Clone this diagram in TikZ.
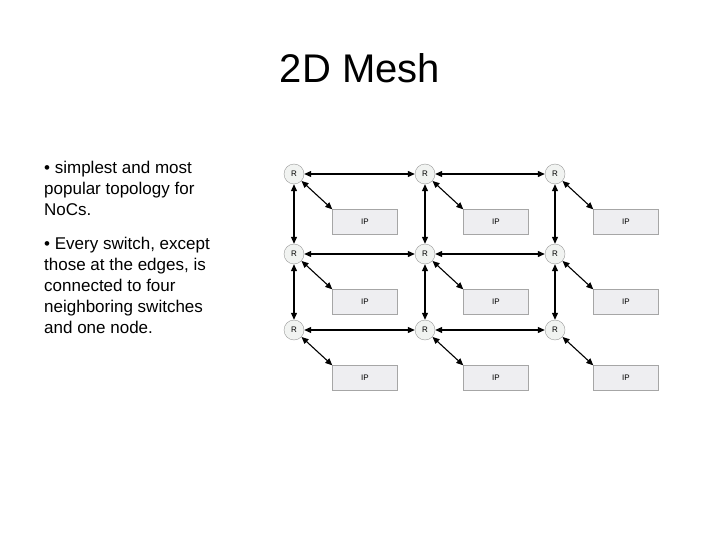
\documentclass[tikz,border=0pt]{standalone}
\usepackage{fontspec}
\setmainfont{Liberation Sans}
\usetikzlibrary{arrows.meta}
\begin{document}
\begin{tikzpicture}[x=1pt,y=-1pt,
 rnode/.style={circle,draw=gray!80,fill=green!6!gray!10,minimum size=20pt,inner sep=0pt,font=\fontsize{8}{9}\selectfont},
 ipnode/.style={rectangle,draw=gray!70,fill=blue!8!gray!12,minimum width=65pt,minimum height=25pt,inner sep=0pt,font=\fontsize{8}{9}\selectfont},
 link/.style={{Triangle[length=7pt,width=6pt]}-{Triangle[length=7pt,width=6pt]},line width=1.1pt},
 bul/.style={anchor=north west,align=left,inner sep=0pt,font=\fontsize{17}{21}\selectfont}]
\useasboundingbox (0,0) rectangle (720,540);
\node (title) at (360,68) {\fontsize{40}{44}\selectfont 2D Mesh};
\node[bul] (b1) at (44,161) {• simplest and most\\popular topology for\\NoCs.};
\node[bul] (b2) at (44,237) {• Every switch, except\\those at the edges, is\\connected to four\\neighboring switches\\and one node.};
\foreach \c/\x in {1/294,2/425,3/555}{
 \foreach \r/\y/\iy in {1/174/222,2/254/302,3/330/378}{
  \node[rnode] (r\c\r) at (\x,\y) {R};
  \node[ipnode] (ip\c\r) at (\x+71,\iy) {IP};
  \draw[link] (r\c\r) -- (ip\c\r.north west);
 }}
\foreach \r in {1,2,3}{
 \draw[link] (r1\r) -- (r2\r);
 \draw[link] (r2\r) -- (r3\r);}
\foreach \c in {1,2,3}{
 \draw[link] (r\c1) -- (r\c2);
 \draw[link] (r\c2) -- (r\c3);}
\end{tikzpicture}
\end{document}
